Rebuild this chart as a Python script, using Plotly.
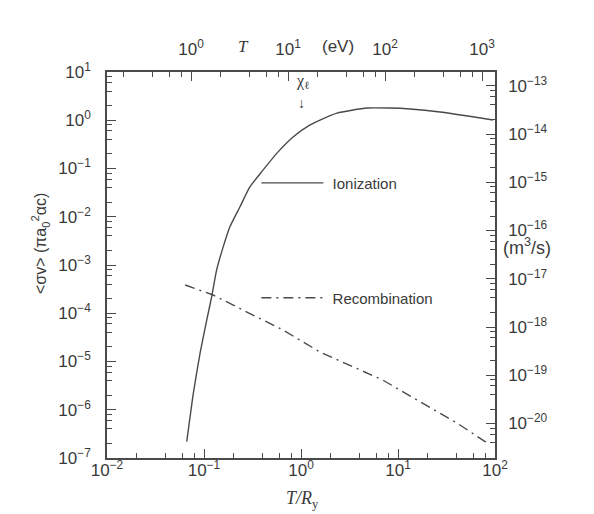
import math
import plotly.graph_objects as go

# ---- data ----
ion_x = [0.0664, 0.0776, 0.091, 0.1067, 0.120, 0.135, 0.158, 0.185, 0.235, 0.298,
         0.394, 0.562, 0.834, 1.24, 1.57, 2.35, 4.79, 8.28, 13.3, 27.1, 95.3]
ion_y = [2.18e-7, 2.19e-6, 1.48e-5, 7.2e-5, 2.2e-4, 7.9e-4, 2.4e-3, 6.2e-3, 1.61e-2, 4.2e-2,
         8.6e-2, 0.206, 0.456, 0.80, 1.01, 1.41, 1.79, 1.79, 1.71, 1.48, 1.01]

rec_x = [0.064, 0.124, 0.277, 0.652, 1.57, 2.71, 4.06, 7.0, 18.1, 40.6, 82.8]
rec_y = [3.85e-4, 2.39e-4, 1.06e-4, 4.5e-5, 1.57e-5, 9.8e-6, 6.7e-6, 4.1e-6,
         1.38e-6, 5.3e-7, 2.05e-7]

bottom_exps = [-2, -1, 0, 1, 2]
left_exps = [1, 0, -1, -2, -3, -4, -5, -6, -7]
top_exps = [0, 1, 2, 3]
right_exps = [-13, -14, -15, -16, -17, -18, -19, -20]

RY_EV = 13.6          # Rydberg energy in eV
RATE_UNIT = 1.93e-14  # pi a0^2 alpha c in m^3/s

x_range_log = [-2, 2]
y_range_log = [-7, 1]
top_range = [x_range_log[0] + math.log10(RY_EV), x_range_log[1] + math.log10(RY_EV)]
right_range = [y_range_log[0] + math.log10(RATE_UNIT), y_range_log[1] + math.log10(RATE_UNIT)]


def minor_vals(lo, hi):
    return [m * 10.0 ** e for e in range(math.floor(lo) - 1, math.ceil(hi) + 1) for m in (2, 4, 6, 8)]


def pow_label(e):
    s = str(e).replace("-", "−")
    return f"10<sup>{s}</sup>"


LINE = "#4a4a4a"
TXT = "#3a3a3a"
FONT = "Liberation Sans"

fig = go.Figure()
fig.add_trace(go.Scatter(x=ion_x, y=ion_y, mode="lines", name=" Ionization",
                         line=dict(color=LINE, width=1.4, shape="spline", smoothing=0.5),
                         legend="legend"))
fig.add_trace(go.Scatter(x=rec_x, y=rec_y, mode="lines", name=" Recombination",
                         line=dict(color=LINE, width=1.4, dash="10px,5px,2px,5px"),
                         legend="legend2"))
# carriers for the secondary axes
fig.add_trace(go.Scatter(x=[1, 1000], y=[None, None], xaxis="x2", yaxis="y",
                         mode="lines", showlegend=False, hoverinfo="skip"))
fig.add_trace(go.Scatter(x=[1, 100], y=[None, None], xaxis="x", yaxis="y2",
                         mode="lines", showlegend=False, hoverinfo="skip"))

axis_common = dict(type="log", showgrid=False, zeroline=False, ticks="inside",
                   ticklen=9, tickwidth=1.2, tickcolor=LINE, showline=True,
                   linecolor=LINE, linewidth=1.5, tickmode="array",
                   tickfont=dict(family=FONT, size=17, color=TXT))


def minor(rng):
    return dict(tickmode="array", tickvals=minor_vals(*rng), ticks="inside",
                ticklen=5, tickcolor=LINE, tickwidth=1.1)


fig.update_layout(
    width=594, height=514,
    margin=dict(l=107, r=99, t=72, b=56),
    paper_bgcolor="white", plot_bgcolor="white",
    font=dict(family=FONT, color=TXT),
    xaxis=dict(**axis_common, range=x_range_log, ticklabelstandoff=-4,
               tickvals=[10.0 ** e for e in bottom_exps], ticktext=[pow_label(e) for e in bottom_exps],
               minor=minor(x_range_log)),
    xaxis2=dict(**axis_common, range=top_range, overlaying="x", side="top", anchor="y",
                ticklabelstandoff=8,
                tickvals=[10.0 ** e for e in top_exps], ticktext=[pow_label(e) for e in top_exps],
                minor=minor(top_range)),
    yaxis=dict(**axis_common, range=y_range_log, ticklabelstandoff=11,
               tickvals=[10.0 ** e for e in left_exps], ticktext=[pow_label(e) for e in left_exps],
               minor=minor(y_range_log)),
    yaxis2=dict(**axis_common, range=right_range, overlaying="y", side="right", anchor="x",
                ticklabelstandoff=8,
                tickvals=[10.0 ** e for e in right_exps], ticktext=[pow_label(e) for e in right_exps],
                minor=minor(right_range)),
    legend=dict(x=0.385, y=0.712, xanchor="left", yanchor="middle", bgcolor="rgba(0,0,0,0)",
                itemwidth=62, font=dict(family=FONT, size=15, color=TXT)),
    legend2=dict(x=0.385, y=0.4145, xanchor="left", yanchor="middle", bgcolor="rgba(0,0,0,0)",
                 itemwidth=62, font=dict(family=FONT, size=15, color=TXT)),
)

ann = [
    dict(text="&lt;σv&gt; (πa<sub>0</sub><sup>2</sup>αc)", xref="paper", yref="paper",
         x=-0.172, y=0.555, xanchor="center", yanchor="middle", textangle=-90, showarrow=False,
         font=dict(family=FONT, size=16, color=TXT)),
    dict(text="(m<sup>3</sup>/s)", xref="paper", yref="paper", x=1.0825, y=0.549,
         xanchor="center", yanchor="middle",
         showarrow=False, font=dict(family=FONT, size=18, color=TXT)),
    dict(text="<i>T/R</i><sub>y</sub>", xref="paper", yref="paper", x=0.505, y=-0.108,
         xanchor="center", yanchor="middle",
         showarrow=False, font=dict(family="Liberation Serif", size=18, color=TXT)),
    dict(text="<i>T</i>", xref="paper", yref="paper", x=0.353, y=1.065,
         xanchor="center", yanchor="middle",
         showarrow=False, font=dict(family="Liberation Serif", size=17, color=TXT)),
    dict(text="(eV)", xref="paper", yref="paper", x=0.595, y=1.065,
         xanchor="center", yanchor="middle",
         showarrow=False, font=dict(family=FONT, size=17, color=TXT)),
    dict(text="χ<sub>ℓ</sub>", xref="paper", yref="paper", x=0.505, y=0.975,
         xanchor="center", yanchor="middle",
         showarrow=False, font=dict(family="Liberation Serif", size=16, color=TXT)),
    dict(text="↓", xref="paper", yref="paper", x=0.50, y=0.92,
         xanchor="center", yanchor="middle",
         showarrow=False, font=dict(family=FONT, size=14, color=TXT)),
]
fig.update_layout(annotations=ann)

fig.write_html("out.html", config={"displayModeBar": False},
               post_script="document.body.style.margin='0';")
